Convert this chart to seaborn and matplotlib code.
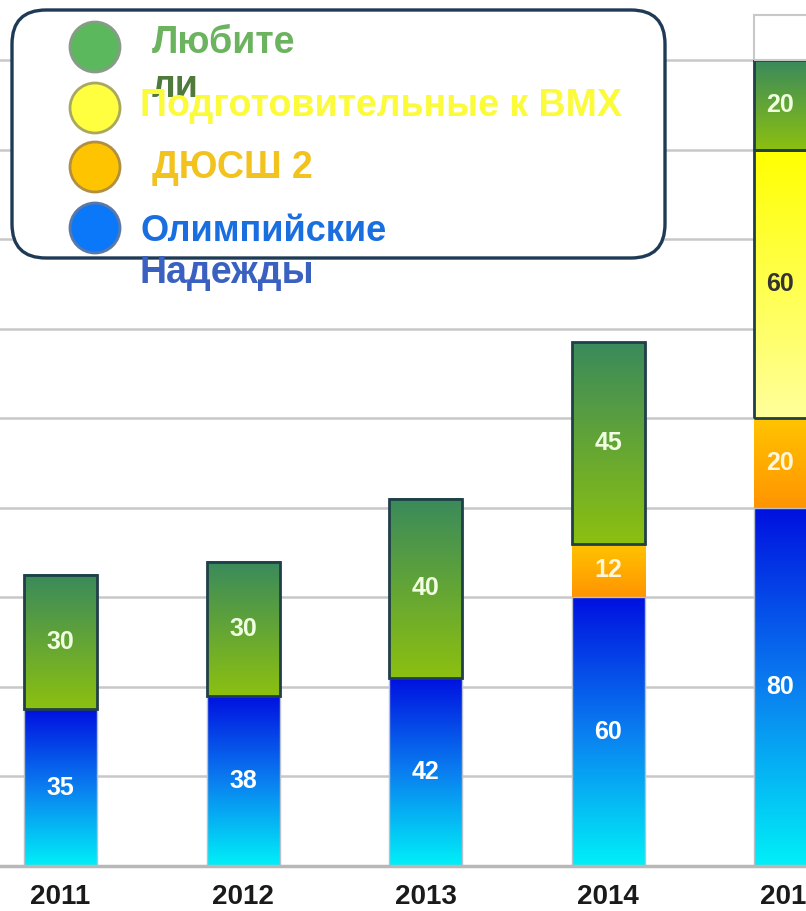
import numpy as np
import pandas as pd
import matplotlib
matplotlib.use("Agg")
import matplotlib.pyplot as plt
import seaborn as sns
from matplotlib.colors import LinearSegmentedColormap
from matplotlib.patches import FancyBboxPatch, Circle

# data
years = ['2011', '2012', '2013', '2014', '2015']
olymp = [35, 38, 42, 60, 80]        # Олимпийские Надежды
dyussh = [0, 0, 0, 12, 20]          # ДЮСШ 2
prep = [0, 0, 0, 0, 60]             # Подготовительные к ВМХ
amateurs = [30, 30, 40, 45, 20]     # Любители
other = [0, 0, 0, 0, 10]            # unlabeled white cap on 2015

series = [
    # values, top colour(s) -> bottom, edge colour, edge width, label colour
    (olymp, ['#0010e0', '#0a7ef0', '#00f0f8'], '#b8c0cc', 1.0, 'white'),
    (dyussh, ['#ffc400', '#ff9400'], 'none', 0, '#fff6dc'),
    (prep, ['#ffff00', '#ffff9c'], '#203f48', 2.0, '#333333'),
    (amateurs, ['#3a8a5c', '#8cc010'], '#203f48', 2.0, '#f0ffe0'),
    (other, ['#ffffff', '#ffffff'], '#c8c8c8', 1.5, 'white'),
]

sns.set_style("white")
plt.rcParams['font.family'] = ['Liberation Sans', 'DejaVu Sans']

fig = plt.figure(figsize=(8.06, 9.11), dpi=100)
ax = fig.add_axes([0, 45 / 911, 1, 866 / 911])

bottom = np.zeros(len(years))
for vals, cols, edge, lw, tcol in series:
    n0 = len(ax.patches)
    sns.barplot(x=years, y=vals, bottom=bottom, width=0.4, color='white',
                errorbar=None, ax=ax, order=years)
    new = ax.patches[n0:]
    cmap = LinearSegmentedColormap.from_list('g', cols[::-1])
    for p, v in zip(new, vals):
        if v == 0:
            p.set_visible(False)
            continue
        x0, y0, w, h = p.get_x(), p.get_y(), p.get_width(), p.get_height()
        grad = np.linspace(0, 1, 256).reshape(-1, 1)
        ax.imshow(grad, cmap=cmap, origin='lower', aspect='auto',
                  extent=[x0, x0 + w, y0, y0 + h], zorder=1.2)
        p.set_facecolor('none')
        p.set_edgecolor(edge)
        p.set_linewidth(lw)
        p.set_zorder(1.5)
    labels = [str(v) if v and vals is not other else '' for v in vals]
    ax.bar_label(ax.containers[-1], labels=labels, label_type='center',
                 color=tcol, fontsize=18, fontweight='bold', zorder=3)
    bottom = bottom + np.array(vals)

ax.set_xlim(-0.331, 4.083)
ax.set_ylim(0, 193.4)
ax.set_yticks(range(0, 200, 20))
ax.yaxis.grid(True, color='#c8c8c8', lw=1.8)
ax.set_axisbelow(True)
ax.tick_params(axis='y', length=0, labelleft=False)
ax.set_xticks(range(len(years)))
ax.set_xticklabels(years)
ax.set_xticks([0.5, 1.5, 2.5, 3.5], minor=True)
ax.tick_params(axis='x', which='major', length=0, pad=13, labelsize=20,
               labelcolor='#1a1a1a')
ax.tick_params(axis='x', which='minor', length=6, width=1.5, color='#b0b0b0',
               direction='out')
for t in ax.get_xticklabels():
    t.set_fontweight('bold')
for s in ['left', 'right', 'top']:
    ax.spines[s].set_visible(False)
ax.spines['bottom'].set_color('#b8b8b8')
ax.spines['bottom'].set_linewidth(2.5)
ax.set_xlabel('')
ax.set_ylabel('')

# legend box drawn in pixel coordinates on an overlay
lg = fig.add_axes([0, 0, 1, 1], zorder=5)
lg.set_xlim(0, 806)
lg.set_ylim(911, 0)
lg.axis('off')
lg.add_patch(FancyBboxPatch((12, 10), 653, 248,
                            boxstyle='round,pad=0,rounding_size=34',
                            facecolor='white', edgecolor='#1e3a55', lw=2.4))
markers = [(47, '#5cb85c', '#8a9a8a'), (108, '#ffff40', '#a8a860'),
           (167, '#ffc400', '#b09040'), (228, '#0a78f8', '#5a78a8')]
for cy, fc, ec in markers:
    lg.add_patch(Circle((95, cy), 25, facecolor=fc, edgecolor=ec, lw=2))

txt = dict(fontweight='bold', va='baseline', ha='left')
lg.text(152, 53, 'Любите', color='#6cb360', fontsize=27, **txt)
lg.text(152, 97, 'ли', color='#4f7a3c', fontsize=27, **txt)
lg.text(140, 116, 'Подготовительные к ВМХ', color='#fbfb3a', fontsize=27, **txt)
lg.text(152, 178, 'ДЮСШ 2', color='#f2c21e', fontsize=27, **txt)
lg.text(141, 241, 'Олимпийские', color='#1a6fe0', fontsize=26, **txt)
lg.text(140, 283, 'Надежды', color='#3a60c0', fontsize=27, **txt)

fig.savefig('out.png', dpi=100)
